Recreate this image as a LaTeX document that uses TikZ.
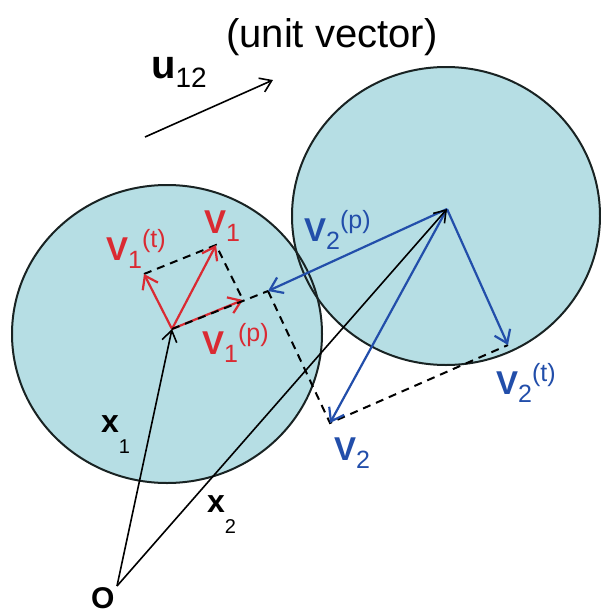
\documentclass[tikz,border=0pt]{standalone}
\usepackage{fontspec}
\setmainfont{Liberation Sans}
\usetikzlibrary{arrows.meta}
\definecolor{ballfill}{RGB}{182,222,228}
\definecolor{vred}{RGB}{218,42,50}
\definecolor{vblue}{RGB}{34,78,170}
\definecolor{rimcol}{RGB}{25,35,35}
\newcommand\fs[1]{\fontsize{#1}{#1}\selectfont}
\newcommand\velab[2]{{\fs{33}\bfseries V}\raisebox{-8pt}{\fs{25}#1}\raisebox{13pt}{\fs{25}#2}}
\begin{document}
\begin{tikzpicture}[x=1pt,y=-1pt,
  ballrim/.style={draw=rimcol,line width=2pt},
  vec/.style={-{Straight Barb[length=12pt,width=17pt]},line width=2.2pt},
  posvec/.style={-{Straight Barb[length=11pt,width=15pt]},line width=1.6pt,black},
  guide/.style={dashed,dash pattern=on 8pt off 6pt,line width=2pt,black},
  lab/.style={inner sep=0pt,anchor=base west}
]
\useasboundingbox (0,0) rectangle (600,616);
\fill[white] (0,0) rectangle (600,616);
% balls
\fill[ballfill] (167,334) ellipse [x radius=155pt, y radius=149pt];
\fill[ballfill] (446,216) ellipse [x radius=154pt, y radius=149pt];
\draw[ballrim] (167,334) ellipse [x radius=155pt, y radius=149pt];
\draw[ballrim] (446,216) ellipse [x radius=154pt, y radius=149pt];
% points
\coordinate (O) at (117,586);
\coordinate (c1) at (172,329);
\coordinate (c2) at (447,209);
\coordinate (v1t) at (144,274);
\coordinate (v1) at (216,245);
\coordinate (v1p) at (243,300);
\coordinate (v2p) at (268,291);
\coordinate (v2) at (330,423);
\coordinate (v2t) at (508,345);
\coordinate (ut) at (145,137);
\coordinate (uh) at (273,80);
% dashed construction
\draw[guide] (v1t) -- (v1) -- (v1p);
\draw[guide] (v2p) -- (v2) -- (v2t);
% velocity vectors
\draw[vec,vred] (c1) -- (v1t);
\draw[vec,vred] (c1) -- (v1);
\draw[vec,vred] (c1) -- (v1p);
\draw[guide] (c1) -- (v2p);
\draw[vec,vblue] (c2) -- (v2p);
\draw[vec,vblue] (c2) -- (v2);
\draw[vec,vblue] (c2) -- (v2t);
% position vectors and unit vector
\draw[posvec] (O) -- (c1);
\draw[posvec] (O) -- (c2);
\draw[posvec] (ut) -- (uh);
% labels
\node[lab,text=vred] (l1) at (204,233) {\velab{1}{}};
\node[lab,text=vred] (l1t) at (106,260) {\velab{1}{(t)}};
\node[lab,text=vred] (l1p) at (202,354) {\velab{1}{(p)}};
\node[lab,text=vblue] (l2p) at (304,241) {\velab{2}{(p)}};
\node[lab,text=vblue] (l2t) at (496,394) {\velab{2}{(t)}};
\node[lab,text=vblue] (l2) at (334,460) {\velab{2}{}};
\node[lab] (lx1) at (101,432) {{\fs{32}\bfseries x}\raisebox{-21pt}{\fs{20}1}};
\node[lab] (lx2) at (207,512) {{\fs{32}\bfseries x}\raisebox{-21pt}{\fs{20}2}};
\node[lab] (lO) at (91,608) {\fs{30}\bfseries O};
\node[lab] (lu) at (151,78) {{\fs{40}\bfseries u}\raisebox{-9pt}{\fs{28}12}};
\node[lab] (luv) at (226,47) {\fs{40}(unit vector)};
\end{tikzpicture}
\end{document}
